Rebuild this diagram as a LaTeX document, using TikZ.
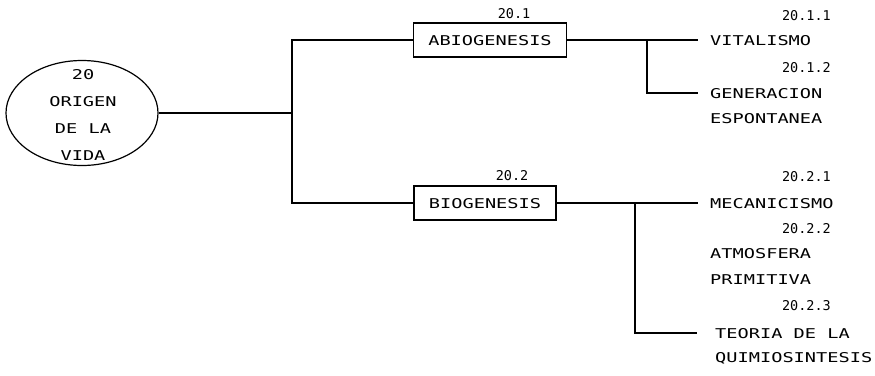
\documentclass[tikz,border=0pt]{standalone}
\usepackage{fontspec}
\usetikzlibrary{shapes.geometric}
\newfontfamily\plotterfont[FakeStretch=1.38]{DejaVu Sans Mono}
\newfontfamily\plotterdigits{DejaVu Sans Mono}
\newcommand\lettering{\plotterfont\fontsize{13.5}{27}\selectfont}
\newcommand\numbering{\plotterdigits\fontsize{13.5}{16}\selectfont}

\begin{document}
\begin{tikzpicture}[x=1pt,y=-1pt,
  box/.style={draw,line width=1.2pt,font=\lettering,inner xsep=15pt,
    minimum height=34pt,text height=10pt,text depth=0pt},
  item/.style={anchor=west,inner xsep=12pt,inner ysep=0pt,font=\lettering,
    text height=10pt,text depth=0pt},
  num/.style={anchor=east,inner sep=0pt,font=\numbering,
    text height=10pt,text depth=0pt},
  link/.style={line width=1.4pt}]
\useasboundingbox (0,0) rectangle (875,375);
\node[draw,ellipse,line width=1.2pt,minimum width=152pt,minimum height=105pt]
  (root) at (82,113) {};
\node[font=\lettering,align=center,inner sep=0pt] (rootlabel) at (83,115)
  {20\\ORIGEN\\DE LA\\VIDA};
\coordinate (fork) at (292,113);
\node[box] (abio) at (490,40) {ABIOGENESIS};
\node[box] (bio) at (485,203) {BIOGENESIS};
\node[num,anchor=center] (n1) at (514,13) {20.1};
\node[num,anchor=center] (n2) at (512,175) {20.2};
\node[item] (vit) at (698,40) {VITALISMO};
\node[item] (gen) at (698,93) {GENERACION};
\node[item] (esp) at (698,118) {ESPONTANEA};
\node[item] (mec) at (698,203) {MECANICISMO};
\node[item] (atm) at (698,253) {ATMOSFERA};
\node[item] (pri) at (698,279) {PRIMITIVA};
\node[item,inner xsep=18pt] (teo) at (697,333) {TEORIA DE LA};
\node[item,inner xsep=18pt] (qui) at (697,357) {QUIMIOSINTESIS};
\node[num] (n11) at (831,15) {20.1.1};
\node[num] (n12) at (831,67) {20.1.2};
\node[num] (n21) at (831,176) {20.2.1};
\node[num] (n22) at (831,228) {20.2.2};
\node[num] (n23) at (831,305) {20.2.3};
\coordinate (abiosplit) at (647,40);
\coordinate (biosplit) at (635,203);
\draw[link] (root.east) -- (fork);
\draw[link] (abio.west) -| (fork) |- (bio.west);
\draw[link] (abio.east) -- (vit.west);
\draw[link] (abiosplit) |- (gen.west);
\draw[link] (bio.east) -- (mec.west);
\draw[link] (biosplit) |- (teo.west);
\end{tikzpicture}
\end{document}
